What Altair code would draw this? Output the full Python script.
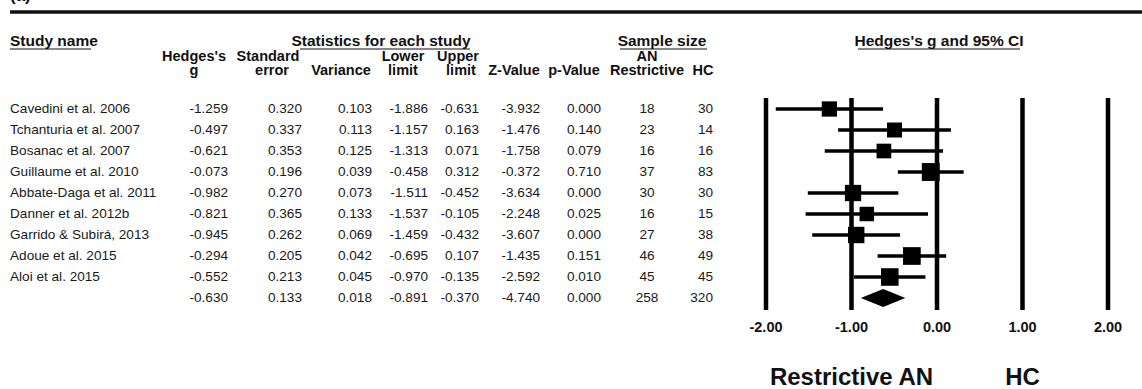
import altair as alt
import pandas as pd

# ---- study-level statistics ----
studies = [
    "Cavedini et al. 2006", "Tchanturia et al. 2007", "Bosanac et al. 2007",
    "Guillaume et al. 2010", "Abbate-Daga et al. 2011", "Danner et al. 2012b",
    "Garrido & Subirá, 2013", "Adoue et al. 2015", "Aloi et al. 2015",
]
hedges_g = [-1.259, -0.497, -0.621, -0.073, -0.982, -0.821, -0.945, -0.294, -0.552]
std_err = [0.320, 0.337, 0.353, 0.196, 0.270, 0.365, 0.262, 0.205, 0.213]
variance = [0.103, 0.113, 0.125, 0.039, 0.073, 0.133, 0.069, 0.042, 0.045]
lower = [-1.886, -1.157, -1.313, -0.458, -1.511, -1.537, -1.459, -0.695, -0.970]
upper = [-0.631, 0.163, 0.071, 0.312, -0.452, -0.105, -0.432, 0.107, -0.135]
z_val = [-3.932, -1.476, -1.758, -0.372, -3.634, -2.248, -3.607, -1.435, -2.592]
p_val = [0.000, 0.140, 0.079, 0.710, 0.000, 0.025, 0.000, 0.151, 0.010]
n_an = [18, 23, 16, 37, 30, 16, 27, 46, 45]
n_hc = [30, 14, 16, 83, 30, 15, 38, 49, 45]

# ---- pooled (random-effects) summary ----
pooled = dict(g=-0.630, se=0.133, var=0.018, lo=-0.891, hi=-0.370,
              z=-4.740, p=0.000, an=258, hc=320)

tick_values = [-2, -1, 0, 1, 2]
tick_labels = ["-2.00", "-1.00", "0.00", "1.00", "2.00"]

FONT = "Liberation Sans"

# one table row per study plus the pooled row
rows = pd.DataFrame({
    "row": list(range(len(studies))) + [len(studies)],
    "name": studies + [""],
    "g": hedges_g + [pooled["g"]],
    "se": std_err + [pooled["se"]],
    "var": variance + [pooled["var"]],
    "lo": lower + [pooled["lo"]],
    "hi": upper + [pooled["hi"]],
    "z": z_val + [pooled["z"]],
    "p": p_val + [pooled["p"]],
    "an": n_an + [pooled["an"]],
    "hc": n_hc + [pooled["hc"]],
})
for c in ["g", "se", "var", "lo", "hi", "z", "p"]:
    rows[c + "_s"] = rows[c].map(lambda v: f"{v:.3f}")
rows["an_s"] = rows["an"].astype(str)
rows["hc_s"] = rows["hc"].astype(str)

# box size follows random-effects weight 1/(v + tau^2)
tau2 = 0.087
study_rows = rows.iloc[:len(studies)].copy()
study_rows["w"] = 1.0 / (study_rows["var"] + tau2)

# shared scales: rows are 21px apart starting at 109px; effect axis 85.5px/unit, 0 at 937px
W, H = 1142, 389
y_scale = alt.Scale(domain=[(H - 109) / 21, -109 / 21], nice=False, zero=False)
x_scale = alt.Scale(domain=[-937 / 85.5, (W - 937) / 85.5], nice=False, zero=False)
Y = alt.Y("row:Q", scale=y_scale, axis=None)

layers = []

# table body
body = alt.Chart(rows)
layers.append(body.mark_text(align="left", baseline="middle", font=FONT, fontSize=13.6,
                             color="#1a1a1a")
              .encode(x=alt.value(10), y=Y, text="name:N"))
columns = [("g_s", 228, "right"), ("se_s", 302, "right"), ("var_s", 372, "right"),
           ("lo_s", 428, "right"), ("hi_s", 479, "right"), ("z_s", 540, "right"),
           ("p_s", 601, "right"), ("an_s", 647, "center"), ("hc_s", 713, "right")]
for field, px, al in columns:
    layers.append(body.mark_text(align=al, baseline="middle", font=FONT, fontSize=13.6,
                                 color="#1a1a1a")
                  .encode(x=alt.value(px), y=Y, text=f"{field}:N"))

# header texts
def label(txt, x, y, size=14.5, align="center", bold=True, baseline="middle"):
    return (alt.Chart(pd.DataFrame({"t": [txt]}))
            .mark_text(align=align, baseline=baseline, font=FONT, fontSize=size,
                       fontWeight="bold" if bold else "normal", color="#111")
            .encode(x=alt.value(x), y=alt.value(y), text="t:N"))

layers.append(label("(a)", 10, -4, size=17, align="left"))
layers.append(label("Study name", 10, 41, size=15.5, align="left"))
layers.append(label("Statistics for each study", 381, 41, size=15.5))
layers.append(label("Sample size", 662, 41, size=15.5))
layers.append(label("Hedges's g and 95% CI", 939, 41, size=15.5))

col_heads = [("Hedges's", 194, 57), ("g", 194, 71), ("Standard", 268, 57), ("error", 272, 71),
             ("Variance", 341, 71), ("Lower", 403, 57), ("limit", 403, 71),
             ("Upper", 458, 57), ("limit", 461, 71), ("Z-Value", 514, 71),
             ("p-Value", 574, 71), ("AN", 647, 57), ("Restrictive", 647, 71), ("HC", 703, 71)]
for t, x, y in col_heads:
    layers.append(label(t, x, y))

# decorative rules: top bar and header underlines
def hrule(x1, x2, y, w):
    return (alt.Chart(pd.DataFrame({"k": [0]}))
            .mark_rule(color="#111", strokeWidth=w)
            .encode(x=alt.value(x1), x2=alt.value(x2), y=alt.value(y)))

layers.append(hrule(10, W, 12, 3.5))
for x1, x2 in [(10, 91), (300, 470), (620, 707), (858, 1020)]:
    layers.append(hrule(x1, x2, 49, 1.2))

# reference lines on the effect axis
ticks = pd.DataFrame({"v": tick_values, "lab": tick_labels})
layers.append(alt.Chart(ticks).mark_rule(color="black", strokeWidth=4.5)
              .encode(x=alt.X("v:Q", scale=x_scale, axis=None),
                      y=alt.value(98), y2=alt.value(310)))
layers.append(alt.Chart(ticks).mark_text(font=FONT, fontSize=14.5, fontWeight="bold",
                                         baseline="middle", color="#111")
              .encode(x=alt.X("v:Q", scale=x_scale, axis=None), y=alt.value(328),
                      text="lab:N"))

# confidence intervals and weighted boxes
study = alt.Chart(study_rows)
layers.append(study.mark_rule(color="black", strokeWidth=3.5)
              .encode(x=alt.X("lo:Q", scale=x_scale, axis=None), x2="hi:Q", y=Y))
layers.append(study.mark_square(color="black", opacity=1, filled=True)
              .encode(x=alt.X("g:Q", scale=x_scale, axis=None), y=Y,
                      size=alt.Size("w:Q", scale=alt.Scale(range=[210, 320], zero=False),
                                    legend=None)))

# pooled-effect diamond
r = len(studies)
half = 0.43
diamond = pd.DataFrame({
    "x": [pooled["lo"], pooled["g"], pooled["hi"]],
    "y1": [r, r - half, r],
    "y2": [r, r + half, r],
})
layers.append(alt.Chart(diamond).mark_area(color="black", opacity=1)
              .encode(x=alt.X("x:Q", scale=x_scale, axis=None),
                      y=alt.Y("y1:Q", scale=y_scale, axis=None), y2="y2:Q"))

# group labels under the axis
groups = pd.DataFrame({"v": [-1, 1], "t": ["Restrictive AN", "HC"]})
layers.append(alt.Chart(groups).mark_text(font=FONT, fontSize=24, fontWeight="bold",
                                          baseline="alphabetic", color="#111")
              .encode(x=alt.X("v:Q", scale=x_scale, axis=None), y=alt.value(385),
                      text="t:N"))

chart = (alt.layer(*layers)
         .properties(width=W, height=H, autosize="none", padding=0, background="white")
         .configure_view(stroke=None))

chart.save("out.html", embed_options={"renderer": "svg", "actions": False})
